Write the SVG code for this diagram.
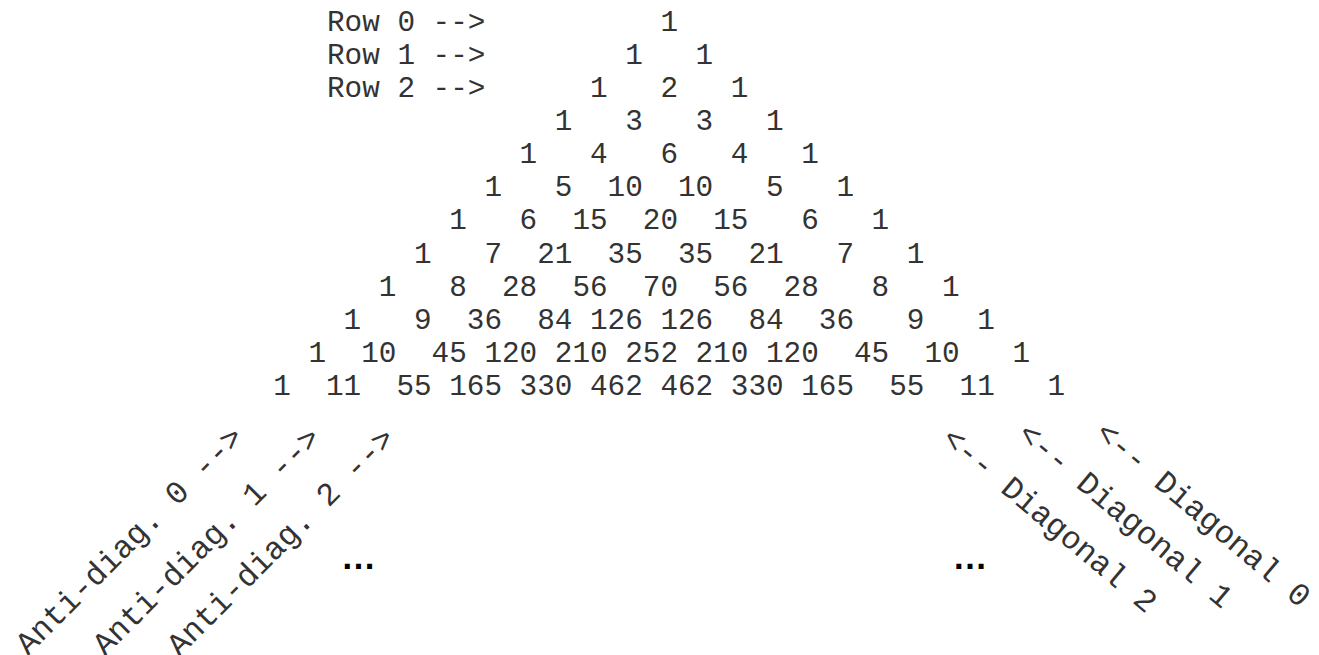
<svg xmlns="http://www.w3.org/2000/svg" width="1319" height="655" viewBox="0 0 1319 655">
<style>
  .t { font-family: "Liberation Mono", "Courier New", monospace; font-size: 29.33px; fill: #333; white-space: pre; }
  .r { font-family: "Liberation Mono", "Courier New", monospace; font-size: 32px; fill: #333; white-space: pre; }
  .e { font-family: "Liberation Sans", Arial, sans-serif; font-size: 35px; font-weight: bold; fill: #000; }
</style>
<rect width="1319" height="655" fill="#fff"/>
<g id="row-labels">
  <text class="t" x="327" y="30.7" xml:space="preserve">Row 0 --&gt;</text>
  <text class="t" x="327" y="63.8" xml:space="preserve">Row 1 --&gt;</text>
  <text class="t" x="327" y="96.9" xml:space="preserve">Row 2 --&gt;</text>
</g>
<g id="triangle">
  <text id="row0" class="t" x="660.4" y="30.7" xml:space="preserve">1</text>
  <text id="row1" class="t" x="625.2" y="63.8" xml:space="preserve">1   1</text>
  <text id="row2" class="t" x="590.0" y="96.9" xml:space="preserve">1   2   1</text>
  <text id="row3" class="t" x="554.8" y="130.1" xml:space="preserve">1   3   3   1</text>
  <text id="row4" class="t" x="519.6" y="163.2" xml:space="preserve">1   4   6   4   1</text>
  <text id="row5" class="t" x="484.4" y="196.3" xml:space="preserve">1   5  10  10   5   1</text>
  <text id="row6" class="t" x="449.2" y="229.4" xml:space="preserve">1   6  15  20  15   6   1</text>
  <text id="row7" class="t" x="414.0" y="262.5" xml:space="preserve">1   7  21  35  35  21   7   1</text>
  <text id="row8" class="t" x="378.8" y="295.7" xml:space="preserve">1   8  28  56  70  56  28   8   1</text>
  <text id="row9" class="t" x="343.6" y="328.8" xml:space="preserve">1   9  36  84 126 126  84  36   9   1</text>
  <text id="row10" class="t" x="308.4" y="361.9" xml:space="preserve">1  10  45 120 210 252 210 120  45  10   1</text>
  <text id="row11" class="t" x="273.2" y="395.0" xml:space="preserve">1  11  55 165 330 462 462 330 165  55  11   1</text>
</g>
<g id="anti-diagonals">
  <text class="r" text-anchor="end" x="245.2" y="438.9" transform="rotate(-45 245.2 438.9)" xml:space="preserve">Anti-diag. 0 --&gt;</text>
  <text class="r" text-anchor="end" x="322.3" y="439.6" transform="rotate(-45 322.3 439.6)" xml:space="preserve">Anti-diag. 1 --&gt;</text>
  <text class="r" text-anchor="end" x="396.5" y="440.2" transform="rotate(-45 396.5 440.2)" xml:space="preserve">Anti-diag. 2 --&gt;</text>
  <text class="e" text-anchor="middle" x="358.6" y="569">…</text>
</g>
<g id="diagonals">
  <text class="r" x="940.3" y="441.4" transform="rotate(40 940.3 441.4)" xml:space="preserve">&lt;-- Diagonal 2</text>
  <text class="r" x="1016" y="436.7" transform="rotate(40 1016 436.7)" xml:space="preserve">&lt;-- Diagonal 1</text>
  <text class="r" x="1093.7" y="435.7" transform="rotate(40 1093.7 435.7)" xml:space="preserve">&lt;-- Diagonal 0</text>
  <text class="e" text-anchor="middle" x="970" y="569">…</text>
</g>
</svg>
